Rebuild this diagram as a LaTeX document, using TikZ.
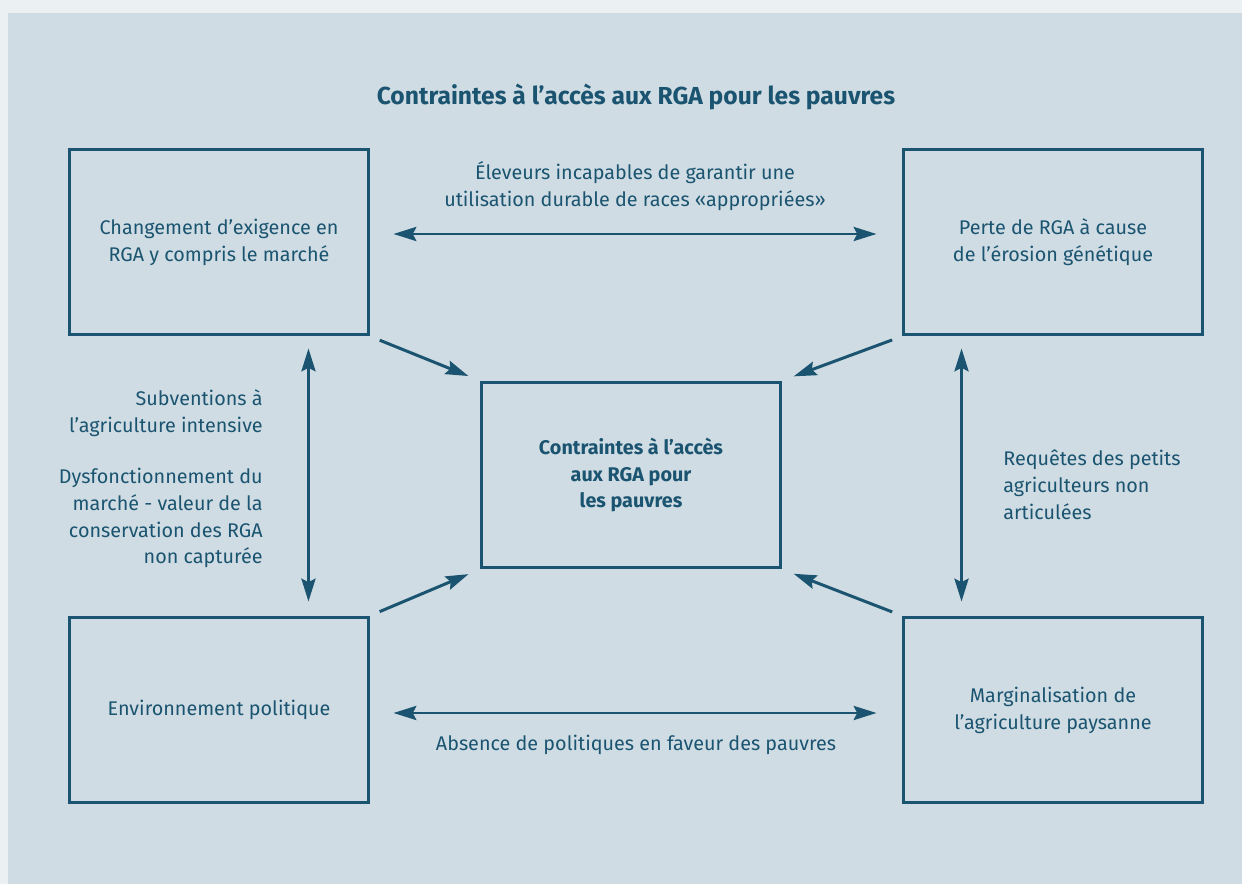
\documentclass[tikz,border=0pt]{standalone}
\usepackage{fontspec}
\setmainfont{Fira Sans}
\usepackage{xcolor}
\usepackage{tikz}
\usetikzlibrary{arrows.meta, positioning}
\definecolor{teal}{HTML}{1A5470}
\definecolor{panel}{HTML}{D0DCE3}
\definecolor{rim}{HTML}{EBF0F3}

\begin{document}
\begin{tikzpicture}[x=0.02cm, y=-0.02cm,
    box/.style={draw=teal, line width=1.7pt, minimum width=6cm, minimum height=3.72cm, align=center, text=teal, inner sep=0pt},
    lbl/.style={text=teal, inner sep=0pt},
    arr/.style={draw=teal, line width=1.7pt, -{Stealth[length=13pt, width=8pt, inset=2pt]}},
    darr/.style={arr, {Stealth[length=13pt, width=8pt, inset=2pt]}-{Stealth[length=13pt, width=8pt, inset=2pt]}}]
      \fontsize{11.25}{15.3}\selectfont
      \fill[rim] (0,0) rectangle (1242,884);
      \fill[panel] (8,13) rectangle (1242,884);
      \useasboundingbox (0,0) rectangle (1242,884);
      \node[lbl, font=\bfseries\fontsize{14}{16}\selectfont] (title) at (636,97) {Contraintes à l’accès aux RGA pour les pauvres};
      % the five boxes
      \node[box] (tl) at (219,242) {Changement d’exigence en\\RGA y compris le marché};
      \node[box] (tr) at (1053,242) {Perte de RGA à cause\\de l’érosion génétique};
      \node[box, font=\bfseries] (mid) at (631,475) {Contraintes à l’accès\\aux RGA pour\\les pauvres};
      \node[box] (bl) at (219,710) {Environnement politique};
      \node[box] (br) at (1053,710) {Marginalisation de\\l’agriculture paysanne};
      % double arrows between the outer boxes
      \draw[darr, shorten <=0.46cm, shorten >=0.5cm] ([yshift=0.16cm]tl.east) -- ([yshift=0.16cm]tr.west);
      \draw[darr, shorten <=0.46cm, shorten >=0.5cm] ([yshift=-0.06cm]bl.east) -- ([yshift=-0.06cm]br.west);
      \draw[darr, shorten <=0.24cm, shorten >=0.28cm] ([xshift=-1.24cm]tl.south east) -- ([xshift=-1.24cm]bl.north east);
      \draw[darr, shorten <=0.24cm, shorten >=0.28cm] ([xshift=1.2cm]tr.south west) -- ([xshift=1.2cm]br.north west);
      % arrows into the middle
      \draw[arr, shorten <=0.2cm, shorten >=0.24cm] (tl.south east) -- (mid.north west);
      \draw[arr, shorten <=0.2cm, shorten >=0.24cm] (tr.south west) -- (mid.north east);
      \draw[arr, shorten <=0.2cm, shorten >=0.24cm] (bl.north east) -- (mid.south west);
      \draw[arr, shorten <=0.2cm, shorten >=0.24cm] (br.north west) -- (mid.south east);
      % labels
      \node[lbl, align=center] (eleveurs) at (635,186) {Éleveurs incapables de garantir une\\utilisation durable de races «appropriées»};
      \node[lbl] (absence) at (636,745) {Absence de politiques en faveur des pauvres};
      \node[lbl, align=right, anchor=east] (subv) at (263,413) {Subventions à\\l’agriculture intensive};
      \node[lbl, align=right, anchor=east] (dysf) at (263,518) {Dysfonctionnement du\\marché - valeur de la\\conservation des RGA\\non capturée};
      \node[lbl, align=left, anchor=west] (requetes) at (1003,485) {Requêtes des petits\\agriculteurs non\\articulées};
\end{tikzpicture}
\end{document}
